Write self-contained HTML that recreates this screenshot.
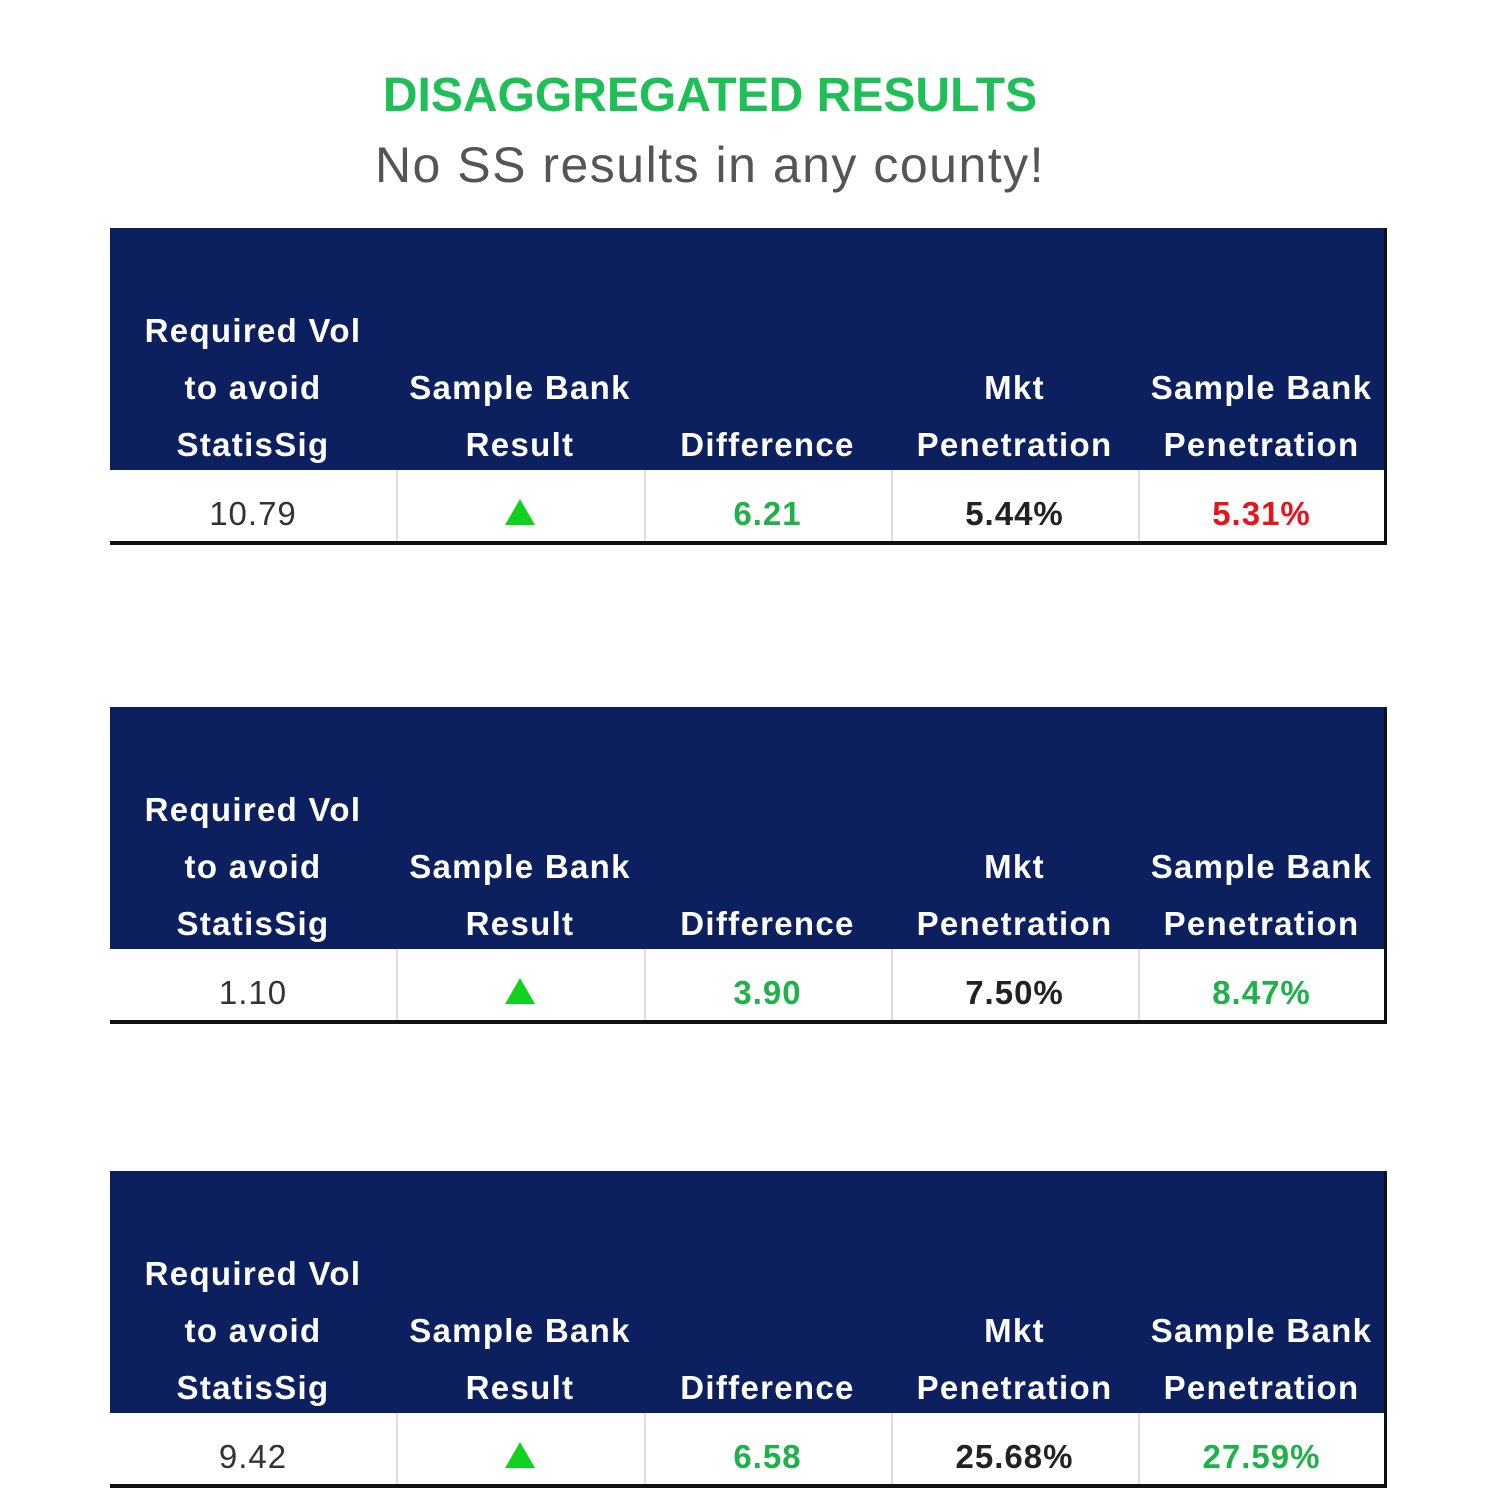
<!DOCTYPE html>
<html><head><meta charset="utf-8"><style>
body{margin:0;width:1500px;height:1500px;background:#fff;position:relative;overflow:hidden;font-family:"Liberation Sans",sans-serif}
.t{position:absolute;left:0;width:1420px;text-align:center}
.tbl{position:absolute;left:110px;width:1277px;height:318px}
.hd{position:absolute;left:0;top:0;width:1274px;height:242px;background:#0c1f5e;border-right:3px solid #111}
.rw{position:absolute;left:0;top:242px;width:1274px;height:71px;border-right:3px solid #111;border-bottom:4px solid #111;background:#fff}
.c{position:absolute;width:247px;text-align:center}
.h{color:#fff;font-weight:bold;font-size:33px;line-height:57px;letter-spacing:1.3px;white-space:nowrap}
.v{font-size:33px;top:24px;line-height:40px;letter-spacing:1px}
.sep{position:absolute;top:0;width:2px;height:71px;background:#ddd}
</style></head><body>
<div class="t" style="top:68px;color:#1fbf57;font-weight:bold;font-size:48px">DISAGGREGATED RESULTS</div>
<div class="t" style="top:136px;color:#555;font-size:50px;letter-spacing:1.5px">No SS results in any county!</div>
<div id="root"></div>
<script>
const tops=[228,707,1171];
const reqVol=["10.79","1.10","9.42"];
const diffs=["6.21","3.90","6.58"];
const mkt=["5.44%","7.50%","25.68%"];
const bank=["5.31%","8.47%","27.59%"];
const bankColor=["#e8141c","#1fb14a","#1fb14a"];
const colX=[0,286,534,781,1028];
const colW=[286,248,247,247,247];
const headers=[["Required Vol","to avoid","StatisSig"],["","Sample Bank","Result"],["","","Difference"],["","Mkt","Penetration"],["","Sample Bank","Penetration"]];
const root=document.getElementById('root');
tops.forEach((top,i)=>{
  const t=document.createElement('div');t.className='tbl';t.style.top=top+'px';
  
  
  let h='<div class="hd">';
  headers.forEach((lines,j)=>{
    h+=`<div class="c h" style="left:${colX[j]}px;width:${colW[j]}px;top:74px">${lines.map(l=>l||'&nbsp;').join('<br>')}</div>`;
  });
  h+='</div><div class="rw">';
  const vals=[
    `<span style="color:#333">${reqVol[i]}</span>`,
    `<svg width="30" height="26" viewBox="0 0 30 26" style="margin-top:-6px"><polygon points="15,0 30,26 0,26" fill="#0fd21f"/></svg>`,
    `<b style="color:#1fb14a">${diffs[i]}</b>`,
    `<b style="color:#222">${mkt[i]}</b>`,
    `<b style="color:${bankColor[i]}">${bank[i]}</b>`];
  const names=['required-vol','result-icon','difference','mkt-penetration','bank-penetration'];
  vals.forEach((v,j)=>{
    h+=`<div class="c v" style="left:${colX[j]}px;width:${colW[j]}px">${v}</div>`;
    if(j>0)h+=`<div class="sep" style="left:${colX[j]}px"></div>`;
  });
  h+='</div>';
  t.innerHTML=h;
  root.appendChild(t);
});
</script>
</body></html>
